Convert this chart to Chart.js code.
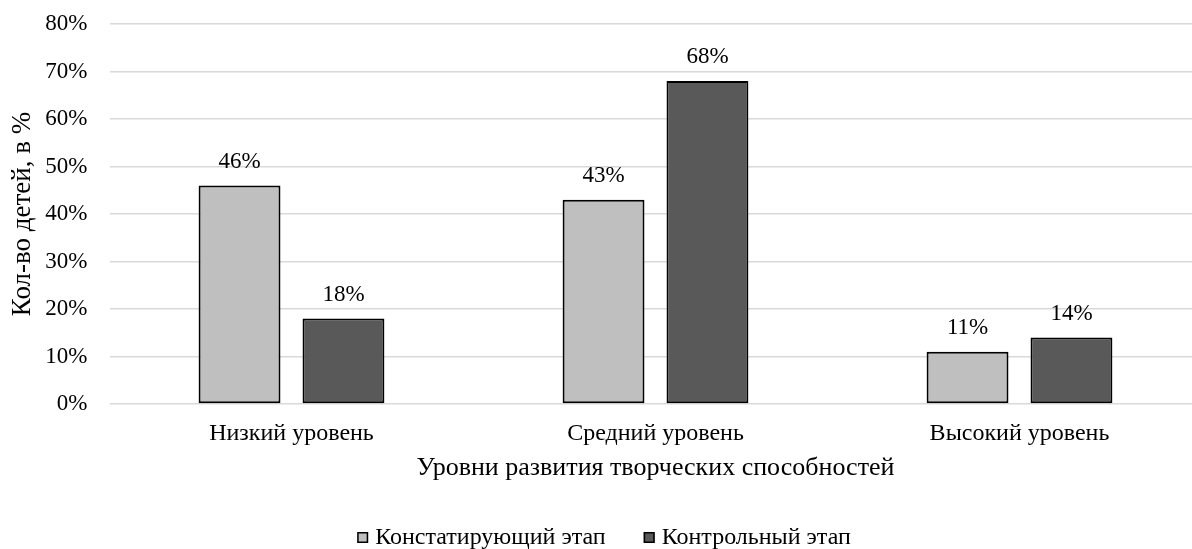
<!DOCTYPE html>
<html>
<head>
<meta charset="utf-8">
<script src="https://cdn.jsdelivr.net/npm/chart.js@4/dist/chart.umd.min.js"></script>
<style>
  html, body { margin: 0; padding: 0; background: #fff; overflow: hidden; }
  #wrap { width: 1192px; height: 549px; overflow: hidden; position: relative; }
  canvas { display: block; }
</style>
</head>
<body>
<div id="wrap"><canvas id="c" width="1210" height="549"></canvas></div>
<script>
const categories = ['Низкий уровень', 'Средний уровень', 'Высокий уровень'];
const seriesNames = ['Констатирующий этап', 'Контрольный этап'];
const stage1 = [46, 43, 11];
const stage2 = [18, 68, 14];
const yTicks = [0, 10, 20, 30, 40, 50, 60, 70, 80];
const yTitle = 'Кол-во детей, в %';
const xTitle = 'Уровни развития творческих способностей';

const FONT = '"Liberation Serif", "Times New Roman", serif';
const colors = ['#BFBFBF', '#595959'];
const PLOT_TOP = 24;

const fixArea = {
  id: 'fixArea',
  afterLayout(chart) {
    const ca = chart.chartArea;
    if (ca.top === PLOT_TOP) return;
    ca.top = PLOT_TOP;
    ca.height = ca.bottom - PLOT_TOP;
    const y = chart.scales.y;
    y.top = PLOT_TOP;
    y.height = y.bottom - PLOT_TOP;
    y.configure();
  }
};

const dataLabels = {
  id: 'dataLabels',
  afterDatasetsDraw(chart) {
    const ctx = chart.ctx;
    ctx.save();
    ctx.font = '23px ' + FONT;
    ctx.fillStyle = '#000';
    ctx.textAlign = 'center';
    ctx.textBaseline = 'middle';
    chart.data.datasets.forEach((ds, i) => {
      chart.getDatasetMeta(i).data.forEach((bar, j) => {
        ctx.fillText(ds.data[j] + '%', bar.x, bar.y - 24);
      });
    });
    ctx.restore();
  }
};

const customLegend = {
  id: 'customLegend',
  afterDraw(chart) {
    const ctx = chart.ctx;
    ctx.save();
    ctx.font = '24px ' + FONT;
    const box = 11, gapText = 7, gapItem = 38;
    const widths = chart.data.datasets.map(ds => box + gapText + ctx.measureText(ds.label).width);
    const total = widths.reduce((a, b) => a + b, 0) + gapItem * (widths.length - 1);
    let x = 604 - total / 2;
    const yc = 537.5;
    chart.data.datasets.forEach((ds, i) => {
      ctx.fillStyle = ds.backgroundColor;
      ctx.fillRect(x, yc - box / 2, box, box);
      ctx.strokeStyle = '#000';
      ctx.lineWidth = 1.5;
      ctx.strokeRect(x + 0.75, yc - box / 2 + 0.75, box - 1.5, box - 1.5);
      ctx.fillStyle = '#000';
      ctx.textAlign = 'left';
      ctx.textBaseline = 'middle';
      ctx.fillText(ds.label, x + box + gapText, yc);
      x += widths[i] + gapItem;
    });
    ctx.restore();
  }
};

const xTitleFont = 26, yTitleFont = 27;
new Chart(document.getElementById('c'), {
  type: 'bar',
  data: {
    labels: categories,
    datasets: [
      { label: seriesNames[0], data: stage1, backgroundColor: colors[0], borderColor: '#000', borderWidth: 2, borderSkipped: false },
      { label: seriesNames[1], data: stage2, backgroundColor: colors[1], borderColor: '#000', borderWidth: 2, borderSkipped: false }
    ]
  },
  options: {
    responsive: false,
    devicePixelRatio: 1,
    animation: false,
    layout: { padding: { left: 0, right: 8.5, top: 0, bottom: 0 } },
    datasets: { bar: { categoryPercentage: 0.571, barPercentage: 0.788 } },
    plugins: { legend: { display: false }, tooltip: { enabled: false } },
    scales: {
      x: {
        grid: { display: false },
        border: { display: false },
        ticks: { font: { family: FONT, size: 24 }, color: '#000', padding: 7 },
        title: { display: true, text: xTitle, font: { family: FONT, size: xTitleFont }, color: '#000',
                 padding: { top: 0, bottom: 81 - xTitleFont * 0.6 } },
        afterFit(scale) { scale.height = 145; }
      },
      y: {
        min: 0, max: 80,
        afterBuildTicks(scale) { scale.ticks = yTicks.map(v => ({ value: v })); },
        grid: { color: '#D9D9D9', lineWidth: 1.5, drawTicks: false },
        border: { display: false },
        ticks: { font: { family: FONT, size: 23 }, color: '#000', padding: 22, callback: v => v + '%' },
        title: { display: true, text: yTitle, font: { family: FONT, size: yTitleFont }, color: '#000',
                 padding: { top: 23 - yTitleFont * 0.6, bottom: 0 } },
        afterFit(scale) { scale.width = 109.5; }
      }
    }
  },
  plugins: [fixArea, dataLabels, customLegend]
});
</script>
</body>
</html>
